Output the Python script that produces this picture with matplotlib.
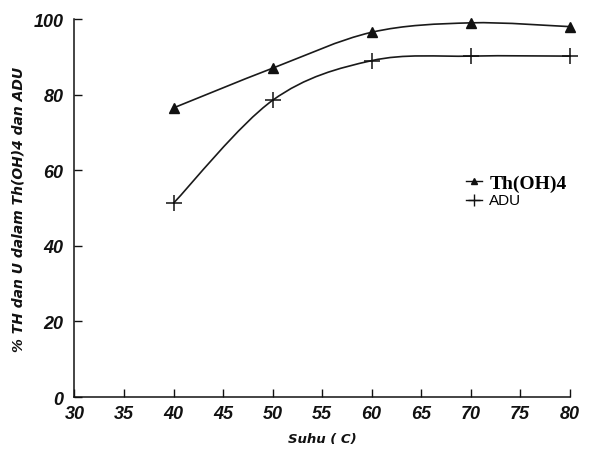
import numpy as np
import matplotlib.pyplot as plt
from matplotlib.path import Path
from matplotlib.patches import PathPatch
from matplotlib.lines import Line2D

suhu = [40, 50, 60, 70, 80]
th_oh4 = [76.5, 87, 96.5, 99, 98]
adu = [51.3, 78.5, 89, 90.2, 90.2]

x_ticks = [30, 35, 40, 45, 50, 55, 60, 65, 70, 75, 80]
y_ticks = [0, 20, 40, 60, 80, 100]

SANS = "Liberation Sans"
WIDE = "DejaVu Sans"
SERIF = "Liberation Serif"
INK = "#111111"


def smooth_path(xs, ys):
    # Catmull-Rom through the points, written as cubic Bezier segments
    pts = np.column_stack([xs, ys]).astype(float)
    ext = np.vstack([pts[0], pts, pts[-1]])
    verts = [tuple(pts[0])]
    codes = [Path.MOVETO]
    for i in range(1, len(ext) - 2):
        p0, p1, p2, p3 = ext[i - 1], ext[i], ext[i + 1], ext[i + 2]
        c1 = p1 + (p2 - p0) / 6.0
        c2 = p2 - (p3 - p1) / 6.0
        verts += [tuple(c1), tuple(c2), tuple(p2)]
        codes += [Path.CURVE4] * 3
    return Path(verts, codes)


fig = plt.figure(figsize=(5.91, 4.56), dpi=100)
ax = fig.add_axes([0.126, 0.127, 0.838, 0.829])

for ys in (th_oh4, adu):
    ax.add_patch(PathPatch(smooth_path(suhu, ys), facecolor="none",
                           edgecolor="#1a1a1a", lw=1.2, clip_on=False))

ax.plot(suhu, th_oh4, ls="none", marker="^", ms=6.5, color=INK, clip_on=False)
ax.plot(suhu, adu, ls="none", marker="+", ms=11, mew=1.1, color=INK, clip_on=False)

ax.set_xlim(30, 80)
ax.set_ylim(0, 100)
ax.set_xticks(x_ticks)
ax.set_yticks(y_ticks)
ax.tick_params(direction="in", length=6, width=1, colors=INK)
ax.tick_params(axis="y", pad=8)
ax.tick_params(axis="x", pad=6)
for lab in ax.get_xticklabels() + ax.get_yticklabels():
    lab.set_fontfamily(SANS)
    lab.set_fontweight("heavy")
    lab.set_fontstyle("italic")
    lab.set_fontsize(13)
for s in ("top", "right"):
    ax.spines[s].set_visible(False)
for s in ("left", "bottom"):
    ax.spines[s].set_linewidth(1.1)
    ax.spines[s].set_color(INK)

ax.set_xlabel("Suhu ( C)", fontfamily=WIDE, fontweight="bold",
              fontstyle="italic", fontsize=9.5, labelpad=7, color=INK)
ax.set_ylabel("% TH dan U dalam Th(OH)4 dan ADU", fontfamily=WIDE,
              fontweight="bold", fontstyle="italic", fontsize=10,
              labelpad=6, color=INK)

handles = [
    Line2D([], [], color=INK, lw=1.0, marker="^", ms=5),
    Line2D([], [], color=INK, lw=1.0, marker="+", ms=9),
]
leg = ax.legend(handles, ["Th(OH)4", "ADU"], loc="upper left",
                bbox_to_anchor=(0.775, 0.61), frameon=False, fontsize=14,
                handlelength=0.8, handletextpad=0.4, labelspacing=0.05,
                borderaxespad=0.0)
t0, t1 = leg.get_texts()
t0.set_fontfamily(SERIF)
t0.set_fontweight("bold")
t0.set_fontsize(14)
t1.set_fontfamily(SANS)
t1.set_fontsize(11)
t1.set_va("bottom")

fig.savefig("out.png", dpi=100, facecolor="white")
